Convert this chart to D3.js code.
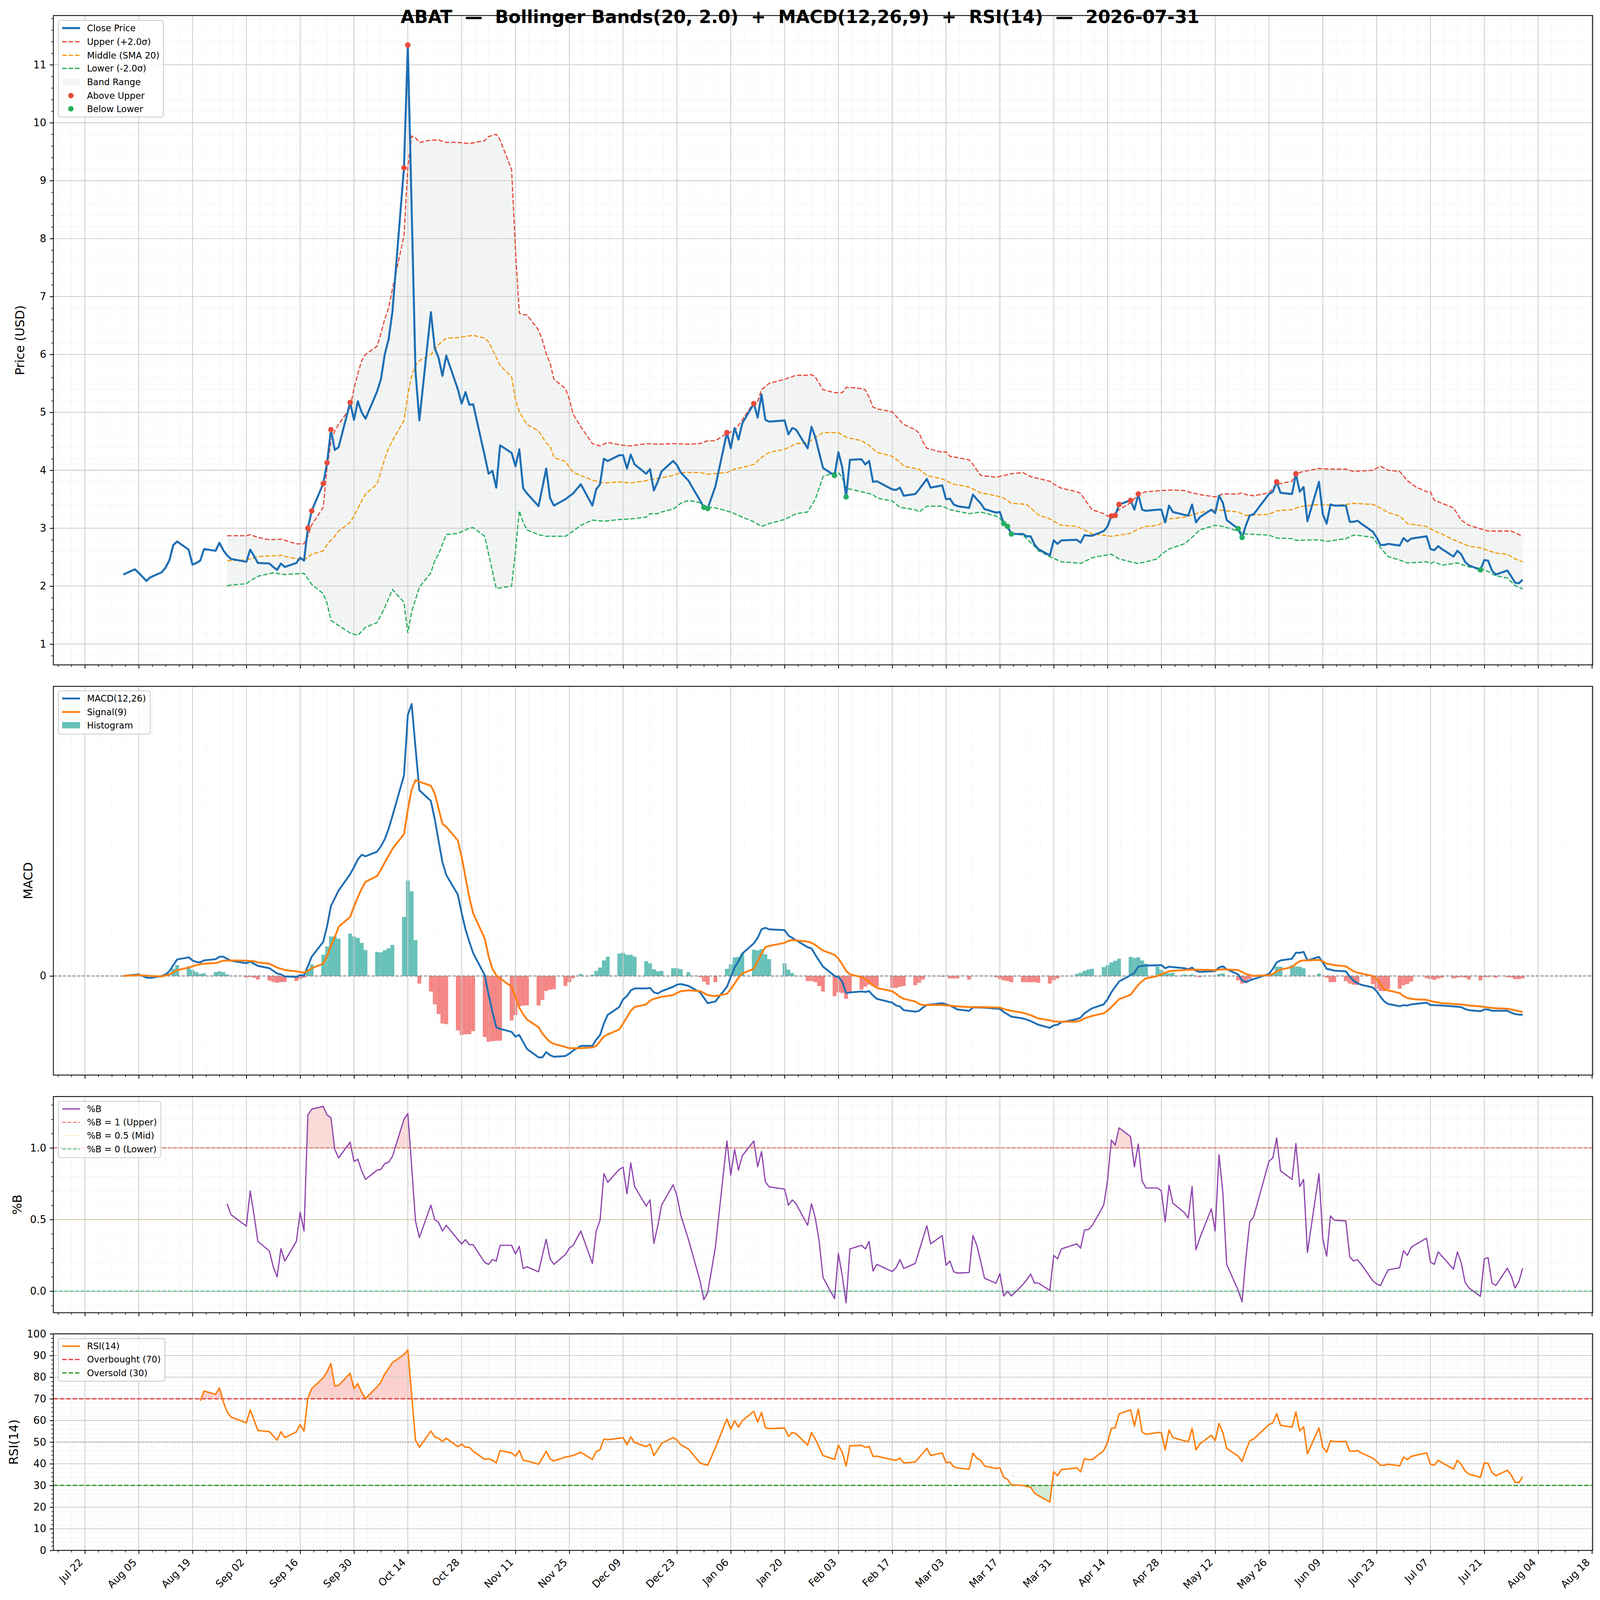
<!DOCTYPE html>
<html>
<head>
<meta charset="utf-8">
<script src="https://cdn.jsdelivr.net/npm/d3@7"></script>
<style>
html, body { margin: 0; padding: 0; background: #fff; width: 100%; height: 100%; overflow: hidden; }
svg { display: block; }
</style>
</head>
<body>
<script>
// ---- data ----
const ticker = "ABAT";
const asOf = "2026-07-31";

const closePrice = [
["2025-08-01",2.20],["2025-08-04",2.29],["2025-08-05",2.23],["2025-08-06",2.16],["2025-08-07",2.09],["2025-08-08",2.15],
["2025-08-11",2.24],["2025-08-12",2.32],["2025-08-13",2.45],["2025-08-14",2.71],["2025-08-15",2.77],
["2025-08-18",2.63],["2025-08-19",2.37],["2025-08-20",2.40],["2025-08-21",2.44],["2025-08-22",2.64],
["2025-08-25",2.61],["2025-08-26",2.75],["2025-08-27",2.62],["2025-08-28",2.53],["2025-08-29",2.47],
["2025-09-02",2.42],["2025-09-03",2.63],["2025-09-04",2.52],["2025-09-05",2.40],
["2025-09-08",2.39],["2025-09-09",2.33],["2025-09-10",2.28],["2025-09-11",2.39],["2025-09-12",2.33],
["2025-09-15",2.40],["2025-09-16",2.49],["2025-09-17",2.44],["2025-09-18",3.00],["2025-09-19",3.30],
["2025-09-22",3.77],["2025-09-23",4.13],["2025-09-24",4.70],["2025-09-25",4.35],["2025-09-26",4.40],
["2025-09-29",5.17],["2025-09-30",4.87],["2025-10-01",5.19],["2025-10-02",5.00],["2025-10-03",4.89],
["2025-10-06",5.36],["2025-10-07",5.57],["2025-10-08",6.00],["2025-10-09",6.26],["2025-10-10",6.74],
["2025-10-13",9.22],["2025-10-14",11.34],["2025-10-15",8.50],["2025-10-16",5.70],["2025-10-17",4.86],
["2025-10-20",6.73],["2025-10-21",6.11],["2025-10-22",5.94],["2025-10-23",5.63],["2025-10-24",5.98],
["2025-10-27",5.40],["2025-10-28",5.15],["2025-10-29",5.35],["2025-10-30",5.13],["2025-10-31",5.14],
["2025-11-03",4.25],["2025-11-04",3.94],["2025-11-05",3.99],["2025-11-06",3.70],["2025-11-07",4.43],
["2025-11-10",4.30],["2025-11-11",4.07],["2025-11-12",4.36],["2025-11-13",3.69],["2025-11-14",3.60],
["2025-11-17",3.38],["2025-11-18",3.70],["2025-11-19",4.03],["2025-11-20",3.52],["2025-11-21",3.39],
["2025-11-24",3.50],["2025-11-25",3.55],["2025-11-26",3.60],["2025-11-28",3.76],
["2025-12-01",3.39],["2025-12-02",3.67],["2025-12-03",3.76],["2025-12-04",4.20],["2025-12-05",4.16],
["2025-12-08",4.26],["2025-12-09",4.26],["2025-12-10",4.03],["2025-12-11",4.27],["2025-12-12",4.10],
["2025-12-15",3.94],["2025-12-16",4.02],["2025-12-17",3.65],["2025-12-18",3.80],["2025-12-19",3.98],
["2025-12-22",4.16],["2025-12-23",4.09],["2025-12-24",3.96],["2025-12-26",3.82],
["2025-12-29",3.48],["2025-12-30",3.36],["2025-12-31",3.34],["2026-01-02",3.72],
["2026-01-05",4.65],["2026-01-06",4.38],["2026-01-07",4.73],["2026-01-08",4.53],["2026-01-09",4.81],
["2026-01-12",5.15],["2026-01-13",4.91],["2026-01-14",5.31],["2026-01-15",4.87],["2026-01-16",4.84],
["2026-01-20",4.86],["2026-01-21",4.62],["2026-01-22",4.73],["2026-01-23",4.70],
["2026-01-26",4.38],["2026-01-27",4.75],["2026-01-28",4.57],["2026-01-29",4.30],["2026-01-30",4.04],
["2026-02-02",3.91],["2026-02-03",4.31],["2026-02-04",4.05],["2026-02-05",3.54],["2026-02-06",4.18],
["2026-02-09",4.19],["2026-02-10",4.10],["2026-02-11",4.16],["2026-02-12",3.80],["2026-02-13",3.81],
["2026-02-17",3.67],["2026-02-18",3.66],["2026-02-19",3.70],["2026-02-20",3.56],
["2026-02-23",3.59],["2026-02-24",3.67],["2026-02-25",3.76],["2026-02-26",3.85],["2026-02-27",3.70],
["2026-03-02",3.74],["2026-03-03",3.50],["2026-03-04",3.51],["2026-03-05",3.41],["2026-03-06",3.38],
["2026-03-09",3.35],["2026-03-10",3.58],["2026-03-11",3.50],["2026-03-12",3.43],["2026-03-13",3.33],
["2026-03-16",3.27],["2026-03-17",3.28],["2026-03-18",3.08],["2026-03-19",3.03],["2026-03-20",2.90],
["2026-03-23",2.90],["2026-03-24",2.86],["2026-03-25",2.86],["2026-03-26",2.72],["2026-03-27",2.64],
["2026-03-30",2.53],["2026-03-31",2.79],["2026-04-01",2.73],["2026-04-02",2.79],
["2026-04-06",2.80],["2026-04-07",2.75],["2026-04-08",2.88],["2026-04-09",2.87],["2026-04-10",2.87],
["2026-04-13",2.95],["2026-04-14",3.03],["2026-04-15",3.21],["2026-04-16",3.22],["2026-04-17",3.41],
["2026-04-20",3.48],["2026-04-21",3.32],["2026-04-22",3.59],["2026-04-23",3.32],["2026-04-24",3.30],
["2026-04-27",3.32],["2026-04-28",3.32],["2026-04-29",3.10],["2026-04-30",3.39],["2026-05-01",3.28],
["2026-05-04",3.23],["2026-05-05",3.22],["2026-05-06",3.41],["2026-05-07",3.10],["2026-05-08",3.19],
["2026-05-11",3.32],["2026-05-12",3.26],["2026-05-13",3.56],["2026-05-14",3.44],["2026-05-15",3.14],
["2026-05-18",2.99],["2026-05-19",2.84],["2026-05-20",3.05],["2026-05-21",3.22],["2026-05-22",3.24],
["2026-05-26",3.59],["2026-05-27",3.63],["2026-05-28",3.80],["2026-05-29",3.61],
["2026-06-01",3.59],["2026-06-02",3.94],["2026-06-03",3.63],["2026-06-04",3.71],["2026-06-05",3.12],
["2026-06-08",3.80],["2026-06-09",3.24],["2026-06-10",3.08],["2026-06-11",3.41],["2026-06-12",3.39],
["2026-06-15",3.39],["2026-06-16",3.11],["2026-06-17",3.11],["2026-06-18",3.13],["2026-06-19",3.08],
["2026-06-22",2.94],["2026-06-23",2.84],["2026-06-24",2.71],["2026-06-25",2.71],["2026-06-26",2.73],
["2026-06-29",2.70],["2026-06-30",2.83],["2026-07-01",2.77],["2026-07-02",2.82],["2026-07-03",2.83],
["2026-07-06",2.86],["2026-07-07",2.64],["2026-07-08",2.62],["2026-07-09",2.69],["2026-07-10",2.64],
["2026-07-13",2.51],["2026-07-14",2.61],["2026-07-15",2.55],["2026-07-16",2.42],["2026-07-17",2.36],
["2026-07-20",2.28],["2026-07-21",2.45],["2026-07-22",2.44],["2026-07-23",2.27],["2026-07-24",2.20],
["2026-07-27",2.27],["2026-07-28",2.17],["2026-07-29",2.06],["2026-07-30",2.05],["2026-07-31",2.11]
];

const upperBand = [
["2025-08-28",2.87],["2025-08-29",2.87],["2025-09-02",2.87],["2025-09-03",2.89],["2025-09-05",2.84],
["2025-09-08",2.80],["2025-09-11",2.81],["2025-09-12",2.79],["2025-09-15",2.73],["2025-09-17",2.73],
["2025-09-18",2.86],["2025-09-19",3.06],["2025-09-22",3.36],["2025-09-23",4.05],["2025-09-24",4.49],
["2025-09-25",4.68],["2025-09-26",4.79],["2025-09-29",5.08],["2025-09-30",5.41],["2025-10-01",5.67],
["2025-10-02",5.89],["2025-10-03",6.00],["2025-10-06",6.14],["2025-10-07",6.36],["2025-10-08",6.61],
["2025-10-09",6.80],["2025-10-10",7.13],["2025-10-13",8.05],["2025-10-14",9.22],["2025-10-15",9.77],
["2025-10-16",9.74],["2025-10-17",9.66],["2025-10-20",9.70],["2025-10-22",9.70],["2025-10-24",9.66],
["2025-10-27",9.66],["2025-10-30",9.64],["2025-11-03",9.69],["2025-11-04",9.76],["2025-11-06",9.80],
["2025-11-07",9.70],["2025-11-10",9.19],["2025-11-11",7.80],["2025-11-12",6.71],["2025-11-13",6.69],
["2025-11-14",6.68],["2025-11-17",6.42],["2025-11-18",6.25],["2025-11-19",6.01],["2025-11-20",5.85],
["2025-11-21",5.57],["2025-11-24",5.41],["2025-11-25",5.23],["2025-11-26",4.97],["2025-11-28",4.75],
["2025-12-01",4.46],["2025-12-03",4.42],["2025-12-05",4.48],["2025-12-08",4.44],["2025-12-11",4.42],
["2025-12-15",4.46],["2025-12-18",4.45],["2025-12-22",4.46],["2025-12-26",4.45],["2025-12-29",4.46],
["2025-12-31",4.51],["2026-01-02",4.51],["2026-01-05",4.64],["2026-01-07",4.68],["2026-01-09",4.87],
["2026-01-12",5.17],["2026-01-13",5.19],["2026-01-14",5.39],["2026-01-16",5.50],["2026-01-20",5.57],
["2026-01-23",5.64],["2026-01-26",5.64],["2026-01-27",5.65],["2026-01-28",5.61],["2026-01-30",5.39],
["2026-02-02",5.34],["2026-02-04",5.34],["2026-02-05",5.43],["2026-02-06",5.43],["2026-02-09",5.41],
["2026-02-10",5.39],["2026-02-11",5.26],["2026-02-12",5.09],["2026-02-13",5.06],["2026-02-17",5.01],
["2026-02-19",4.86],["2026-02-20",4.79],["2026-02-23",4.70],["2026-02-24",4.64],["2026-02-25",4.49],
["2026-02-26",4.38],["2026-03-02",4.31],["2026-03-03",4.32],["2026-03-04",4.24],["2026-03-06",4.22],
["2026-03-09",4.18],["2026-03-10",4.10],["2026-03-12",3.91],["2026-03-16",3.88],["2026-03-18",3.91],
["2026-03-20",3.94],["2026-03-23",3.96],["2026-03-25",3.89],["2026-03-30",3.81],["2026-03-31",3.76],
["2026-04-02",3.69],["2026-04-06",3.63],["2026-04-07",3.60],["2026-04-09",3.41],["2026-04-10",3.32],
["2026-04-13",3.25],["2026-04-14",3.21],["2026-04-15",3.21],["2026-04-17",3.32],["2026-04-20",3.44],
["2026-04-22",3.58],["2026-04-24",3.63],["2026-04-28",3.65],["2026-05-01",3.66],["2026-05-04",3.65],
["2026-05-06",3.61],["2026-05-08",3.58],["2026-05-12",3.54],["2026-05-14",3.59],["2026-05-18",3.59],
["2026-05-19",3.61],["2026-05-20",3.58],["2026-05-22",3.56],["2026-05-26",3.61],["2026-05-28",3.76],
["2026-06-01",3.81],["2026-06-02",3.94],["2026-06-04",3.98],["2026-06-08",4.03],["2026-06-11",4.02],
["2026-06-15",4.02],["2026-06-17",3.98],["2026-06-22",4.00],["2026-06-24",4.07],["2026-06-26",4.00],
["2026-06-29",3.98],["2026-07-01",3.82],["2026-07-03",3.72],["2026-07-06",3.63],["2026-07-07",3.63],
["2026-07-08",3.48],["2026-07-10",3.43],["2026-07-13",3.35],["2026-07-15",3.14],["2026-07-17",3.05],
["2026-07-20",2.99],["2026-07-22",2.95],["2026-07-24",2.95],["2026-07-28",2.95],["2026-07-31",2.86]
];

const middleBand = [
["2025-08-28",2.44],["2025-09-02",2.45],["2025-09-05",2.51],["2025-09-08",2.52],["2025-09-11",2.53],
["2025-09-15",2.47],["2025-09-17",2.45],["2025-09-19",2.55],["2025-09-22",2.61],["2025-09-23",2.72],
["2025-09-25",2.86],["2025-09-26",2.95],["2025-09-29",3.10],["2025-09-30",3.21],["2025-10-02",3.47],
["2025-10-03",3.59],["2025-10-06",3.76],["2025-10-07",3.98],["2025-10-08",4.20],["2025-10-09",4.38],
["2025-10-10",4.51],["2025-10-13",4.86],["2025-10-14",5.30],["2025-10-15",5.63],["2025-10-16",5.81],
["2025-10-17",5.89],["2025-10-20",6.00],["2025-10-22",6.17],["2025-10-24",6.28],["2025-10-27",6.29],
["2025-10-31",6.33],["2025-11-03",6.28],["2025-11-04",6.22],["2025-11-07",5.81],["2025-11-10",5.61],
["2025-11-11",5.22],["2025-11-12",5.01],["2025-11-13",4.90],["2025-11-14",4.79],["2025-11-17",4.68],
["2025-11-19",4.47],["2025-11-20",4.42],["2025-11-21",4.22],["2025-11-24",4.15],["2025-11-26",3.96],
["2025-11-28",3.91],["2025-12-01",3.83],["2025-12-04",3.78],["2025-12-08",3.80],["2025-12-11",3.78],
["2025-12-15",3.82],["2025-12-17",3.85],["2025-12-19",3.87],["2025-12-22",3.91],["2025-12-24",3.96],
["2025-12-29",3.96],["2025-12-31",3.93],["2026-01-05",3.96],["2026-01-07",4.02],["2026-01-09",4.05],
["2026-01-12",4.10],["2026-01-14",4.22],["2026-01-16",4.31],["2026-01-20",4.36],["2026-01-23",4.46],
["2026-01-26",4.47],["2026-01-28",4.57],["2026-01-30",4.65],["2026-02-03",4.65],["2026-02-05",4.57],
["2026-02-09",4.51],["2026-02-11",4.43],["2026-02-13",4.31],["2026-02-17",4.24],["2026-02-19",4.14],
["2026-02-20",4.07],["2026-02-24",4.02],["2026-02-26",3.91],["2026-03-02",3.85],["2026-03-05",3.76],
["2026-03-09",3.71],["2026-03-12",3.61],["2026-03-16",3.56],["2026-03-18",3.52],["2026-03-20",3.43],
["2026-03-24",3.41],["2026-03-27",3.23],["2026-03-30",3.16],["2026-03-31",3.12],["2026-04-02",3.05],
["2026-04-06",3.03],["2026-04-08",2.97],["2026-04-10",2.90],["2026-04-13",2.88],["2026-04-15",2.86],
["2026-04-20",2.91],["2026-04-22",2.99],["2026-04-24",3.03],["2026-04-27",3.05],["2026-04-30",3.16],
["2026-05-04",3.19],["2026-05-08",3.27],["2026-05-12",3.32],["2026-05-15",3.30],["2026-05-18",3.28],
["2026-05-20",3.22],["2026-05-26",3.24],["2026-05-28",3.30],["2026-06-01",3.32],["2026-06-03",3.37],
["2026-06-08",3.41],["2026-06-12",3.39],["2026-06-15",3.41],["2026-06-17",3.43],["2026-06-22",3.41],
["2026-06-24",3.35],["2026-06-26",3.27],["2026-06-29",3.21],["2026-07-01",3.08],["2026-07-06",3.03],
["2026-07-08",2.95],["2026-07-10",2.90],["2026-07-13",2.80],["2026-07-17",2.69],["2026-07-20",2.66],
["2026-07-24",2.57],["2026-07-27",2.55],["2026-07-29",2.47],["2026-07-31",2.42]
];

const lowerBand = [
["2025-08-28",2.00],["2025-08-29",2.02],["2025-09-02",2.04],["2025-09-03",2.09],["2025-09-05",2.17],
["2025-09-09",2.23],["2025-09-12",2.20],["2025-09-17",2.22],["2025-09-19",2.03],["2025-09-22",1.87],
["2025-09-23",1.70],["2025-09-24",1.41],["2025-09-26",1.32],["2025-09-29",1.19],["2025-10-01",1.15],
["2025-10-03",1.29],["2025-10-06",1.37],["2025-10-08",1.63],["2025-10-10",1.94],["2025-10-13",1.72],
["2025-10-14",1.19],["2025-10-15",1.56],["2025-10-17",1.98],["2025-10-20",2.23],["2025-10-21",2.44],
["2025-10-22",2.55],["2025-10-24",2.89],["2025-10-27",2.91],["2025-10-30",3.00],["2025-10-31",3.01],
["2025-11-03",2.86],["2025-11-06",1.96],["2025-11-10",2.00],["2025-11-11",2.60],["2025-11-12",3.30],
["2025-11-13",3.10],["2025-11-14",2.97],["2025-11-17",2.89],["2025-11-19",2.86],["2025-11-24",2.86],
["2025-11-26",2.95],["2025-11-28",3.05],["2025-12-01",3.14],["2025-12-04",3.12],["2025-12-08",3.15],
["2025-12-11",3.16],["2025-12-15",3.19],["2025-12-16",3.25],["2025-12-18",3.25],["2025-12-19",3.28],
["2025-12-22",3.33],["2025-12-24",3.43],["2025-12-26",3.48],["2025-12-29",3.44],["2025-12-30",3.37],
["2026-01-02",3.35],["2026-01-05",3.30],["2026-01-07",3.25],["2026-01-09",3.19],["2026-01-12",3.11],
["2026-01-14",3.03],["2026-01-16",3.08],["2026-01-20",3.15],["2026-01-23",3.25],["2026-01-26",3.28],
["2026-01-28",3.50],["2026-01-30",3.89],["2026-02-02",3.96],["2026-02-03",3.96],["2026-02-04",3.87],
["2026-02-05",3.69],["2026-02-09",3.63],["2026-02-12",3.58],["2026-02-13",3.52],["2026-02-17",3.47],
["2026-02-19",3.36],["2026-02-23",3.32],["2026-02-24",3.28],["2026-02-26",3.38],["2026-03-02",3.38],
["2026-03-04",3.32],["2026-03-09",3.25],["2026-03-12",3.28],["2026-03-16",3.21],["2026-03-17",3.17],
["2026-03-20",2.91],["2026-03-23",2.88],["2026-03-26",2.69],["2026-03-27",2.61],["2026-03-30",2.51],
["2026-03-31",2.48],["2026-04-01",2.45],["2026-04-02",2.42],["2026-04-06",2.40],["2026-04-07",2.39],
["2026-04-10",2.49],["2026-04-13",2.53],["2026-04-15",2.55],["2026-04-17",2.47],["2026-04-20",2.42],
["2026-04-22",2.39],["2026-04-24",2.42],["2026-04-27",2.47],["2026-04-28",2.55],["2026-04-30",2.64],
["2026-05-04",2.73],["2026-05-06",2.84],["2026-05-08",2.97],["2026-05-12",3.05],["2026-05-14",3.03],
["2026-05-18",2.95],["2026-05-20",2.90],["2026-05-26",2.88],["2026-05-28",2.83],["2026-06-01",2.82],
["2026-06-02",2.79],["2026-06-08",2.80],["2026-06-10",2.77],["2026-06-15",2.82],["2026-06-17",2.88],
["2026-06-19",2.87],["2026-06-22",2.84],["2026-06-24",2.66],["2026-06-26",2.51],["2026-06-29",2.45],
["2026-07-01",2.40],["2026-07-06",2.42],["2026-07-07",2.39],["2026-07-08",2.42],["2026-07-10",2.36],
["2026-07-14",2.40],["2026-07-17",2.33],["2026-07-20",2.31],["2026-07-22",2.25],["2026-07-24",2.18],
["2026-07-27",2.14],["2026-07-29",2.01],["2026-07-31",1.95]
];

const aboveUpperDates = ["2025-09-18","2025-09-19","2025-09-22","2025-09-23","2025-09-24","2025-09-29",
"2025-10-13","2025-10-14","2026-01-05","2026-01-12","2026-04-15","2026-04-16","2026-04-17","2026-04-20",
"2026-04-22","2026-05-28","2026-06-02"];
const belowLowerDates = ["2025-12-30","2025-12-31","2026-02-02","2026-02-05","2026-03-18","2026-03-19",
"2026-03-20","2026-05-18","2026-05-19","2026-07-20"];

const macdLine = [
["2025-08-01",0.000],["2025-08-05",0.010],["2025-08-07",-0.010],["2025-08-08",-0.013],["2025-08-11",0.000],
["2025-08-12",0.010],["2025-08-13",0.030],["2025-08-14",0.070],["2025-08-15",0.106],["2025-08-18",0.120],
["2025-08-19",0.100],["2025-08-20",0.090],["2025-08-21",0.087],["2025-08-22",0.100],["2025-08-25",0.108],
["2025-08-26",0.124],["2025-08-27",0.124],["2025-08-28",0.110],["2025-08-29",0.098],["2025-09-02",0.082],
["2025-09-03",0.092],["2025-09-05",0.065],["2025-09-08",0.050],["2025-09-10",0.016],["2025-09-11",0.010],
["2025-09-12",-0.003],["2025-09-15",-0.006],["2025-09-16",0.005],["2025-09-17",0.003],["2025-09-18",0.062],
["2025-09-19",0.124],["2025-09-22",0.220],["2025-09-23",0.320],["2025-09-24",0.450],["2025-09-25",0.500],
["2025-09-26",0.550],["2025-09-29",0.655],["2025-09-30",0.700],["2025-10-01",0.750],["2025-10-02",0.780],
["2025-10-03",0.770],["2025-10-06",0.800],["2025-10-07",0.835],["2025-10-08",0.880],["2025-10-09",0.946],
["2025-10-10",1.030],["2025-10-13",1.290],["2025-10-14",1.680],["2025-10-15",1.750],["2025-10-16",1.470],
["2025-10-17",1.195],["2025-10-20",1.126],["2025-10-21",1.010],["2025-10-22",0.870],["2025-10-23",0.733],
["2025-10-24",0.650],["2025-10-27",0.524],["2025-10-28",0.406],["2025-10-29",0.300],["2025-10-30",0.220],
["2025-10-31",0.147],["2025-11-03",0.005],["2025-11-04",-0.118],["2025-11-05",-0.230],["2025-11-06",-0.330],
["2025-11-07",-0.340],["2025-11-10",-0.360],["2025-11-11",-0.390],["2025-11-12",-0.380],["2025-11-13",-0.425],
["2025-11-14",-0.470],["2025-11-17",-0.524],["2025-11-18",-0.524],["2025-11-19",-0.490],["2025-11-20",-0.510],
["2025-11-21",-0.520],["2025-11-24",-0.515],["2025-11-25",-0.500],["2025-11-26",-0.480],["2025-11-28",-0.450],
["2025-12-01",-0.450],["2025-12-02",-0.410],["2025-12-03",-0.380],["2025-12-04",-0.306],["2025-12-05",-0.250],
["2025-12-08",-0.200],["2025-12-09",-0.150],["2025-12-10",-0.130],["2025-12-11",-0.093],["2025-12-12",-0.080],
["2025-12-15",-0.080],["2025-12-16",-0.077],["2025-12-17",-0.105],["2025-12-18",-0.113],["2025-12-19",-0.098],
["2025-12-22",-0.070],["2025-12-23",-0.056],["2025-12-24",-0.052],["2025-12-26",-0.064],["2025-12-29",-0.105],
["2025-12-30",-0.140],["2025-12-31",-0.175],["2026-01-02",-0.164],["2026-01-05",-0.070],["2026-01-06",-0.007],
["2026-01-07",0.054],["2026-01-08",0.095],["2026-01-09",0.144],["2026-01-12",0.210],["2026-01-13",0.245],
["2026-01-14",0.300],["2026-01-15",0.310],["2026-01-16",0.300],["2026-01-20",0.295],["2026-01-21",0.260],
["2026-01-22",0.245],["2026-01-23",0.230],["2026-01-26",0.185],["2026-01-27",0.177],["2026-01-28",0.136],
["2026-01-29",0.098],["2026-01-30",0.060],["2026-02-02",0.000],["2026-02-03",-0.007],["2026-02-04",-0.036],
["2026-02-05",-0.110],["2026-02-06",-0.106],["2026-02-09",-0.100],["2026-02-10",-0.103],["2026-02-11",-0.098],
["2026-02-12",-0.126],["2026-02-13",-0.147],["2026-02-17",-0.172],["2026-02-18",-0.190],["2026-02-19",-0.196],
["2026-02-20",-0.220],["2026-02-23",-0.230],["2026-02-24",-0.224],["2026-02-25",-0.203],["2026-02-26",-0.187],
["2026-03-02",-0.175],["2026-03-03",-0.183],["2026-03-04",-0.190],["2026-03-06",-0.216],["2026-03-09",-0.224],
["2026-03-10",-0.203],["2026-03-12",-0.203],["2026-03-16",-0.210],["2026-03-17",-0.213],["2026-03-18",-0.232],
["2026-03-20",-0.262],["2026-03-23",-0.273],["2026-03-25",-0.290],["2026-03-27",-0.314],["2026-03-30",-0.334],
["2026-03-31",-0.318],["2026-04-01",-0.314],["2026-04-02",-0.298],["2026-04-06",-0.278],["2026-04-07",-0.268],
["2026-04-08",-0.240],["2026-04-09",-0.224],["2026-04-10",-0.208],["2026-04-13",-0.183],["2026-04-14",-0.150],
["2026-04-15",-0.105],["2026-04-16",-0.070],["2026-04-17",-0.036],["2026-04-20",0.005],["2026-04-21",0.020],
["2026-04-22",0.060],["2026-04-23",0.065],["2026-04-24",0.067],["2026-04-27",0.069],["2026-04-28",0.070],
["2026-04-29",0.050],["2026-04-30",0.060],["2026-05-01",0.057],["2026-05-04",0.050],["2026-05-05",0.043],
["2026-05-06",0.054],["2026-05-07",0.033],["2026-05-08",0.026],["2026-05-11",0.030],["2026-05-12",0.033],
["2026-05-13",0.054],["2026-05-14",0.062],["2026-05-15",0.043],["2026-05-18",0.010],["2026-05-19",-0.028],
["2026-05-20",-0.040],["2026-05-21",-0.028],["2026-05-22",-0.020],["2026-05-26",0.013],["2026-05-27",0.046],
["2026-05-28",0.087],["2026-05-29",0.100],["2026-06-01",0.111],["2026-06-02",0.150],["2026-06-03",0.149],
["2026-06-04",0.155],["2026-06-05",0.100],["2026-06-08",0.123],["2026-06-09",0.087],["2026-06-10",0.046],
["2026-06-11",0.041],["2026-06-12",0.034],["2026-06-15",0.030],["2026-06-16",-0.003],["2026-06-17",-0.031],
["2026-06-18",-0.047],["2026-06-19",-0.057],["2026-06-22",-0.074],["2026-06-23",-0.098],["2026-06-24",-0.134],
["2026-06-25",-0.164],["2026-06-26",-0.180],["2026-06-29",-0.195],["2026-06-30",-0.188],["2026-07-01",-0.190],
["2026-07-02",-0.183],["2026-07-03",-0.180],["2026-07-06",-0.172],["2026-07-07",-0.187],["2026-07-08",-0.188],
["2026-07-10",-0.190],["2026-07-13",-0.196],["2026-07-15",-0.200],["2026-07-16",-0.213],["2026-07-17",-0.220],
["2026-07-20",-0.227],["2026-07-21",-0.216],["2026-07-22",-0.216],["2026-07-23",-0.224],["2026-07-24",-0.224],
["2026-07-27",-0.224],["2026-07-28",-0.236],["2026-07-29",-0.245],["2026-07-30",-0.249],["2026-07-31",-0.249]
];

const signalLine = [
["2025-08-01",0.000],["2025-08-05",0.005],["2025-08-08",0.000],["2025-08-11",-0.003],["2025-08-13",0.010],
["2025-08-15",0.038],["2025-08-18",0.054],["2025-08-20",0.070],["2025-08-22",0.079],["2025-08-25",0.083],
["2025-08-27",0.098],["2025-08-29",0.100],["2025-09-02",0.098],["2025-09-04",0.095],["2025-09-05",0.087],
["2025-09-08",0.079],["2025-09-10",0.054],["2025-09-12",0.038],["2025-09-15",0.030],["2025-09-17",0.021],
["2025-09-18",0.033],["2025-09-19",0.050],["2025-09-22",0.079],["2025-09-23",0.128],["2025-09-24",0.193],
["2025-09-25",0.250],["2025-09-26",0.316],["2025-09-29",0.380],["2025-09-30",0.447],["2025-10-01",0.507],
["2025-10-02",0.561],["2025-10-03",0.606],["2025-10-06",0.643],["2025-10-07",0.684],["2025-10-08",0.730],
["2025-10-09",0.774],["2025-10-10",0.818],["2025-10-13",0.913],["2025-10-14",1.070],["2025-10-15",1.200],
["2025-10-16",1.260],["2025-10-17",1.250],["2025-10-20",1.224],["2025-10-21",1.175],["2025-10-22",1.077],
["2025-10-23",0.979],["2025-10-24",0.960],["2025-10-27",0.872],["2025-10-28",0.766],["2025-10-29",0.635],
["2025-10-30",0.504],["2025-10-31",0.403],["2025-11-03",0.242],["2025-11-04",0.128],["2025-11-05",0.046],
["2025-11-06",0.005],["2025-11-07",-0.016],["2025-11-10",-0.069],["2025-11-11",-0.134],["2025-11-12",-0.205],
["2025-11-13",-0.245],["2025-11-14",-0.280],["2025-11-17",-0.330],["2025-11-18",-0.370],["2025-11-19",-0.400],
["2025-11-20",-0.425],["2025-11-21",-0.437],["2025-11-24",-0.457],["2025-11-25",-0.465],["2025-11-26",-0.465],
["2025-11-28",-0.465],["2025-12-01",-0.460],["2025-12-02",-0.450],["2025-12-03",-0.420],["2025-12-04",-0.390],
["2025-12-05",-0.376],["2025-12-08",-0.344],["2025-12-09",-0.306],["2025-12-10",-0.265],["2025-12-11",-0.224],
["2025-12-12",-0.200],["2025-12-15",-0.183],["2025-12-16",-0.159],["2025-12-17",-0.147],["2025-12-19",-0.134],
["2025-12-22",-0.123],["2025-12-23",-0.110],["2025-12-24",-0.098],["2025-12-26",-0.093],["2025-12-29",-0.097],
["2025-12-30",-0.110],["2025-12-31",-0.123],["2026-01-02",-0.130],["2026-01-05",-0.115],["2026-01-06",-0.085],
["2026-01-07",-0.049],["2026-01-08",-0.011],["2026-01-09",0.016],["2026-01-12",0.046],["2026-01-13",0.095],
["2026-01-14",0.144],["2026-01-15",0.185],["2026-01-16",0.193],["2026-01-20",0.213],["2026-01-21",0.226],
["2026-01-22",0.231],["2026-01-23",0.229],["2026-01-26",0.221],["2026-01-27",0.213],["2026-01-28",0.200],
["2026-01-29",0.180],["2026-01-30",0.164],["2026-02-02",0.136],["2026-02-03",0.111],["2026-02-04",0.075],
["2026-02-05",0.033],["2026-02-06",0.010],["2026-02-09",-0.007],["2026-02-10",-0.020],["2026-02-11",-0.039],
["2026-02-12",-0.060],["2026-02-13",-0.077],["2026-02-17",-0.098],["2026-02-18",-0.115],["2026-02-19",-0.134],
["2026-02-20",-0.147],["2026-02-23",-0.164],["2026-02-24",-0.180],["2026-02-25",-0.187],["2026-02-26",-0.187],
["2026-03-02",-0.187],["2026-03-06",-0.196],["2026-03-09",-0.200],["2026-03-12",-0.200],["2026-03-16",-0.203],
["2026-03-17",-0.203],["2026-03-18",-0.213],["2026-03-20",-0.224],["2026-03-23",-0.237],["2026-03-25",-0.252],
["2026-03-27",-0.273],["2026-03-30",-0.286],["2026-03-31",-0.292],["2026-04-02",-0.295],["2026-04-06",-0.293],
["2026-04-07",-0.287],["2026-04-08",-0.273],["2026-04-10",-0.257],["2026-04-13",-0.240],["2026-04-14",-0.224],
["2026-04-15",-0.200],["2026-04-16",-0.176],["2026-04-17",-0.150],["2026-04-20",-0.121],["2026-04-21",-0.088],
["2026-04-22",-0.057],["2026-04-23",-0.033],["2026-04-24",-0.016],["2026-04-27",0.000],["2026-04-28",0.010],
["2026-04-29",0.021],["2026-04-30",0.030],["2026-05-01",0.033],["2026-05-04",0.038],["2026-05-06",0.041],
["2026-05-08",0.040],["2026-05-12",0.038],["2026-05-14",0.043],["2026-05-18",0.038],["2026-05-19",0.026],
["2026-05-20",0.013],["2026-05-22",0.000],["2026-05-26",0.005],["2026-05-27",0.013],["2026-05-28",0.030],
["2026-05-29",0.041],["2026-06-01",0.057],["2026-06-02",0.079],["2026-06-03",0.095],["2026-06-04",0.100],
["2026-06-05",0.100],["2026-06-08",0.103],["2026-06-09",0.095],["2026-06-10",0.079],["2026-06-11",0.075],
["2026-06-12",0.070],["2026-06-15",0.062],["2026-06-16",0.046],["2026-06-17",0.030],["2026-06-18",0.021],
["2026-06-19",0.016],["2026-06-22",0.000],["2026-06-23",-0.020],["2026-06-24",-0.052],["2026-06-25",-0.088],
["2026-06-26",-0.093],["2026-06-29",-0.110],["2026-06-30",-0.130],["2026-07-01",-0.142],["2026-07-02",-0.147],
["2026-07-03",-0.150],["2026-07-06",-0.154],["2026-07-08",-0.167],["2026-07-10",-0.175],["2026-07-13",-0.180],
["2026-07-15",-0.183],["2026-07-17",-0.190],["2026-07-20",-0.196],["2026-07-22",-0.203],["2026-07-24",-0.208],
["2026-07-27",-0.211],["2026-07-29",-0.221],["2026-07-31",-0.232]
];

const macdHist = [
["2025-08-14",0.046],["2025-08-15",0.070],["2025-08-18",0.062],["2025-08-19",0.038],["2025-08-20",0.025],
["2025-08-21",0.013],["2025-08-22",0.018],["2025-08-25",0.025],["2025-08-26",0.030],["2025-08-27",0.025],
["2025-08-28",0.010],["2025-09-02",-0.011],["2025-09-03",-0.006],["2025-09-04",-0.011],["2025-09-05",-0.023],
["2025-09-08",-0.030],["2025-09-09",-0.039],["2025-09-10",-0.044],["2025-09-11",-0.039],["2025-09-12",-0.039],
["2025-09-15",-0.033],["2025-09-16",-0.020],["2025-09-17",-0.011],["2025-09-18",0.030],["2025-09-19",0.075],
["2025-09-22",0.136],["2025-09-23",0.190],["2025-09-24",0.254],["2025-09-25",0.254],["2025-09-26",0.239],
["2025-09-29",0.272],["2025-09-30",0.254],["2025-10-01",0.245],["2025-10-02",0.213],["2025-10-03",0.167],
["2025-10-06",0.155],["2025-10-07",0.152],["2025-10-08",0.165],["2025-10-09",0.177],["2025-10-10",0.200],
["2025-10-13",0.380],["2025-10-14",0.614],["2025-10-15",0.545],["2025-10-16",0.230],["2025-10-17",-0.049],
["2025-10-20",-0.100],["2025-10-21",-0.183],["2025-10-22",-0.245],["2025-10-23",-0.306],["2025-10-24",-0.310],
["2025-10-27",-0.350],["2025-10-28",-0.380],["2025-10-29",-0.375],["2025-10-30",-0.375],["2025-10-31",-0.355],
["2025-11-03",-0.393],["2025-11-04",-0.424],["2025-11-05",-0.420],["2025-11-06",-0.417],["2025-11-07",-0.417],
["2025-11-10",-0.286],["2025-11-11",-0.252],["2025-11-12",-0.196],["2025-11-13",-0.190],["2025-11-14",-0.190],
["2025-11-17",-0.190],["2025-11-18",-0.154],["2025-11-19",-0.097],["2025-11-20",-0.088],["2025-11-21",-0.085],
["2025-11-24",-0.064],["2025-11-25",-0.040],["2025-11-26",-0.015],["2025-11-28",0.013],["2025-12-01",0.008],
["2025-12-02",0.033],["2025-12-03",0.054],["2025-12-04",0.100],["2025-12-05",0.124],["2025-12-08",0.144],
["2025-12-09",0.149],["2025-12-10",0.136],["2025-12-11",0.136],["2025-12-12",0.124],["2025-12-15",0.095],
["2025-12-16",0.082],["2025-12-17",0.043],["2025-12-18",0.030],["2025-12-19",0.033],["2025-12-22",0.050],
["2025-12-23",0.050],["2025-12-24",0.043],["2025-12-26",0.025],["2025-12-29",-0.007],["2025-12-30",-0.036],
["2025-12-31",-0.056],["2026-01-02",-0.040],["2026-01-05",0.046],["2026-01-06",0.075],["2026-01-07",0.120],
["2026-01-08",0.123],["2026-01-09",0.144],["2026-01-12",0.169],["2026-01-13",0.165],["2026-01-14",0.173],
["2026-01-15",0.140],["2026-01-16",0.108],["2026-01-20",0.082],["2026-01-21",0.041],["2026-01-22",0.018],
["2026-01-26",-0.033],["2026-01-27",-0.033],["2026-01-28",-0.040],["2026-01-29",-0.065],["2026-01-30",-0.100],
["2026-02-02",-0.130],["2026-02-03",-0.105],["2026-02-04",-0.110],["2026-02-05",-0.147],["2026-02-06",-0.105],
["2026-02-09",-0.088],["2026-02-10",-0.069],["2026-02-11",-0.056],["2026-02-12",-0.065],["2026-02-13",-0.069],
["2026-02-17",-0.077],["2026-02-18",-0.077],["2026-02-19",-0.069],["2026-02-20",-0.065],["2026-02-23",-0.060],
["2026-02-24",-0.044],["2026-02-25",-0.023],["2026-03-02",-0.005],["2026-03-04",-0.016],["2026-03-05",-0.016],
["2026-03-06",-0.016],["2026-03-09",-0.023],["2026-03-16",-0.008],["2026-03-17",-0.020],["2026-03-18",-0.028],
["2026-03-19",-0.033],["2026-03-20",-0.040],["2026-03-23",-0.040],["2026-03-24",-0.040],["2026-03-25",-0.041],
["2026-03-26",-0.040],["2026-03-27",-0.044],["2026-03-30",-0.049],["2026-03-31",-0.028],["2026-04-01",-0.016],
["2026-04-06",0.013],["2026-04-07",0.021],["2026-04-08",0.033],["2026-04-09",0.041],["2026-04-10",0.046],
["2026-04-13",0.057],["2026-04-14",0.070],["2026-04-15",0.087],["2026-04-16",0.098],["2026-04-17",0.111],
["2026-04-20",0.123],["2026-04-21",0.116],["2026-04-22",0.120],["2026-04-23",0.100],["2026-04-24",0.079],
["2026-04-27",0.060],["2026-04-28",0.038],["2026-04-29",0.021],["2026-04-30",0.018],["2026-05-01",0.021],
["2026-05-04",0.010],["2026-05-05",0.005],["2026-05-06",0.010],["2026-05-07",-0.003],["2026-05-08",-0.008],
["2026-05-13",0.013],["2026-05-14",0.016],["2026-05-18",-0.028],["2026-05-19",-0.049],["2026-05-20",-0.044],
["2026-05-21",-0.020],["2026-05-22",-0.006],["2026-05-26",-0.003],["2026-05-27",0.013],["2026-05-28",0.060],
["2026-05-29",0.060],["2026-06-01",0.070],["2026-06-02",0.062],["2026-06-03",0.060],["2026-06-04",0.050],
["2026-06-08",0.016],["2026-06-10",-0.011],["2026-06-11",-0.040],["2026-06-12",-0.039],["2026-06-15",-0.033],
["2026-06-16",-0.049],["2026-06-17",-0.056],["2026-06-18",-0.057],["2026-06-22",-0.052],["2026-06-23",-0.082],
["2026-06-24",-0.097],["2026-06-25",-0.097],["2026-06-26",-0.085],["2026-06-29",-0.082],["2026-06-30",-0.060],
["2026-07-01",-0.052],["2026-07-02",-0.036],["2026-07-06",-0.015],["2026-07-07",-0.020],["2026-07-08",-0.025],
["2026-07-09",-0.016],["2026-07-10",-0.011],["2026-07-13",-0.016],["2026-07-14",-0.011],["2026-07-15",-0.007],
["2026-07-16",-0.011],["2026-07-17",-0.023],["2026-07-20",-0.028],["2026-07-21",-0.008],["2026-07-22",-0.007],
["2026-07-23",-0.003],["2026-07-24",-0.011],["2026-07-27",-0.008],["2026-07-28",-0.011],["2026-07-29",-0.020],
["2026-07-30",-0.020],["2026-07-31",-0.016]
];

const percentB = [
["2025-08-28",0.61],["2025-08-29",0.534],["2025-09-02",0.454],["2025-09-03",0.70],["2025-09-04",0.53],
["2025-09-05",0.347],["2025-09-08",0.28],["2025-09-09",0.17],["2025-09-10",0.10],["2025-09-11",0.297],
["2025-09-12",0.21],["2025-09-15",0.347],["2025-09-16",0.55],["2025-09-17",0.42],["2025-09-18",1.23],
["2025-09-19",1.27],["2025-09-22",1.29],["2025-09-23",1.23],["2025-09-24",1.21],["2025-09-25",0.99],
["2025-09-26",0.93],["2025-09-29",1.04],["2025-09-30",0.906],["2025-10-01",0.92],["2025-10-02",0.84],
["2025-10-03",0.78],["2025-10-06",0.845],["2025-10-07",0.85],["2025-10-08",0.89],["2025-10-09",0.90],
["2025-10-10",0.94],["2025-10-13",1.20],["2025-10-14",1.24],["2025-10-15",0.87],["2025-10-16",0.49],
["2025-10-17",0.374],["2025-10-20",0.60],["2025-10-21",0.50],["2025-10-22",0.48],["2025-10-23",0.42],
["2025-10-24",0.46],["2025-10-27",0.36],["2025-10-28",0.33],["2025-10-29",0.36],["2025-10-30",0.324],
["2025-10-31",0.324],["2025-11-03",0.20],["2025-11-04",0.187],["2025-11-05",0.22],["2025-11-06",0.21],
["2025-11-07",0.32],["2025-11-10",0.32],["2025-11-11",0.26],["2025-11-12",0.313],["2025-11-13",0.158],
["2025-11-14",0.17],["2025-11-17",0.135],["2025-11-18",0.25],["2025-11-19",0.363],["2025-11-20",0.226],
["2025-11-21",0.187],["2025-11-24",0.256],["2025-11-25",0.30],["2025-11-26",0.32],["2025-11-28",0.42],
["2025-12-01",0.194],["2025-12-02",0.42],["2025-12-03",0.495],["2025-12-04",0.82],["2025-12-05",0.76],
["2025-12-08",0.85],["2025-12-09",0.865],["2025-12-10",0.68],["2025-12-11",0.895],["2025-12-12",0.73],
["2025-12-15",0.594],["2025-12-16",0.637],["2025-12-17",0.333],["2025-12-18",0.454],["2025-12-19",0.60],
["2025-12-22",0.742],["2025-12-23",0.667],["2025-12-24",0.53],["2025-12-26",0.36],["2025-12-29",0.073],
["2025-12-30",-0.06],["2025-12-31",-0.011],["2026-01-02",0.306],["2026-01-05",1.048],["2026-01-06",0.81],
["2026-01-07",0.99],["2026-01-08",0.845],["2026-01-09",0.945],["2026-01-12",1.048],["2026-01-13",0.868],
["2026-01-14",0.975],["2026-01-15",0.763],["2026-01-16",0.728],["2026-01-20",0.712],["2026-01-21",0.60],
["2026-01-22",0.637],["2026-01-23",0.61],["2026-01-26",0.46],["2026-01-27",0.61],["2026-01-28",0.51],
["2026-01-29",0.347],["2026-01-30",0.096],["2026-02-02",-0.053],["2026-02-03",0.263],["2026-02-04",0.107],
["2026-02-05",-0.082],["2026-02-06",0.295],["2026-02-09",0.32],["2026-02-10",0.295],["2026-02-11",0.347],
["2026-02-12",0.14],["2026-02-13",0.187],["2026-02-17",0.137],["2026-02-18",0.164],["2026-02-19",0.22],
["2026-02-20",0.158],["2026-02-23",0.194],["2026-02-26",0.457],["2026-02-27",0.33],["2026-03-02",0.388],
["2026-03-03",0.18],["2026-03-04",0.21],["2026-03-05",0.135],["2026-03-06",0.126],["2026-03-09",0.13],
["2026-03-10",0.388],["2026-03-11",0.32],["2026-03-12",0.21],["2026-03-13",0.091],["2026-03-16",0.055],
["2026-03-17",0.123],["2026-03-18",-0.034],["2026-03-19",-0.002],["2026-03-20",-0.034],["2026-03-23",0.046],
["2026-03-24",0.08],["2026-03-25",0.119],["2026-03-26",0.057],["2026-03-27",0.057],["2026-03-30",0.005],
["2026-03-31",0.25],["2026-04-01",0.226],["2026-04-02",0.295],["2026-04-06",0.33],["2026-04-07",0.30],
["2026-04-08",0.427],["2026-04-09",0.43],["2026-04-10",0.457],["2026-04-13",0.60],["2026-04-14",0.77],
["2026-04-15",1.055],["2026-04-16",1.02],["2026-04-17",1.14],["2026-04-20",1.078],["2026-04-21",0.868],
["2026-04-22",1.027],["2026-04-23",0.77],["2026-04-24",0.72],["2026-04-27",0.72],["2026-04-28",0.70],
["2026-04-29",0.484],["2026-04-30",0.74],["2026-05-01",0.614],["2026-05-04",0.548],["2026-05-05",0.51],
["2026-05-06",0.73],["2026-05-07",0.29],["2026-05-08",0.37],["2026-05-11",0.575],["2026-05-12",0.42],
["2026-05-13",0.952],["2026-05-14",0.69],["2026-05-15",0.187],["2026-05-18",0.005],["2026-05-19",-0.075],
["2026-05-20",0.233],["2026-05-21",0.484],["2026-05-22",0.518],["2026-05-26",0.906],["2026-05-27",0.93],
["2026-05-28",1.07],["2026-05-29",0.84],["2026-06-01",0.78],["2026-06-02",1.03],["2026-06-03",0.73],
["2026-06-04",0.78],["2026-06-05",0.27],["2026-06-08",0.82],["2026-06-09",0.365],["2026-06-10",0.244],
["2026-06-11",0.525],["2026-06-12",0.495],["2026-06-15",0.49],["2026-06-16",0.24],["2026-06-17",0.21],
["2026-06-18",0.22],["2026-06-19",0.187],["2026-06-22",0.073],["2026-06-23",0.05],["2026-06-24",0.039],
["2026-06-25",0.096],["2026-06-26",0.148],["2026-06-29",0.164],["2026-06-30",0.283],["2026-07-01",0.25],
["2026-07-02",0.306],["2026-07-03",0.324],["2026-07-06",0.37],["2026-07-07",0.203],["2026-07-08",0.187],
["2026-07-09",0.274],["2026-07-10",0.244],["2026-07-13",0.153],["2026-07-14",0.274],["2026-07-15",0.199],
["2026-07-16",0.062],["2026-07-17",0.023],["2026-07-20",-0.037],["2026-07-21",0.226],["2026-07-22",0.233],
["2026-07-23",0.057],["2026-07-24",0.039],["2026-07-27",0.16],["2026-07-28",0.107],["2026-07-29",0.023],
["2026-07-30",0.068],["2026-07-31",0.16]
];

const rsi14 = [
["2025-08-21",69.1],["2025-08-22",73.6],["2025-08-25",72.1],["2025-08-26",75.0],["2025-08-27",68.7],
["2025-08-28",63.9],["2025-08-29",61.6],["2025-09-02",58.9],["2025-09-03",64.9],["2025-09-05",55.4],
["2025-09-08",54.8],["2025-09-10",50.9],["2025-09-11",54.8],["2025-09-12",52.1],["2025-09-15",54.7],
["2025-09-16",58.1],["2025-09-17",55.1],["2025-09-18",70.2],["2025-09-19",74.7],["2025-09-22",79.7],
["2025-09-23",82.5],["2025-09-24",86.3],["2025-09-25",75.9],["2025-09-26",76.2],["2025-09-29",81.8],
["2025-09-30",74.7],["2025-10-01",77.0],["2025-10-02",72.9],["2025-10-03",70.2],["2025-10-06",75.5],
["2025-10-07",77.7],["2025-10-08",81.5],["2025-10-09",84.0],["2025-10-10",86.7],["2025-10-13",90.5],
["2025-10-14",92.5],["2025-10-15",72.0],["2025-10-16",50.9],["2025-10-17",47.6],["2025-10-20",55.1],
["2025-10-21",52.4],["2025-10-22",51.8],["2025-10-23",50.3],["2025-10-24",51.8],["2025-10-27",47.9],
["2025-10-28",49.1],["2025-10-29",47.6],["2025-10-30",47.6],["2025-10-31",45.8],["2025-11-03",42.0],
["2025-11-04",42.3],["2025-11-05",41.6],["2025-11-06",40.4],["2025-11-07",46.1],["2025-11-10",45.0],
["2025-11-11",43.5],["2025-11-12",46.1],["2025-11-13",41.6],["2025-11-14",41.3],["2025-11-17",39.8],
["2025-11-18",42.6],["2025-11-19",45.8],["2025-11-20",42.3],["2025-11-21",41.3],["2025-11-24",43.1],
["2025-11-25",43.4],["2025-11-26",43.8],["2025-11-28",45.3],["2025-12-01",42.0],["2025-12-02",45.6],
["2025-12-03",46.5],["2025-12-04",51.4],["2025-12-05",51.1],["2025-12-08",51.8],["2025-12-09",52.1],
["2025-12-10",48.8],["2025-12-11",52.4],["2025-12-12",49.8],["2025-12-15",47.9],["2025-12-16",49.1],
["2025-12-17",43.8],["2025-12-18",46.4],["2025-12-19",49.4],["2025-12-22",52.1],["2025-12-23",50.9],
["2025-12-24",48.8],["2025-12-26",46.8],["2025-12-29",40.4],["2025-12-30",39.8],["2025-12-31",39.3],
["2026-01-02",47.3],["2026-01-05",60.7],["2026-01-06",55.9],["2026-01-07",59.9],["2026-01-08",56.9],
["2026-01-09",59.9],["2026-01-12",64.2],["2026-01-13",59.3],["2026-01-14",63.7],["2026-01-15",56.6],
["2026-01-16",56.2],["2026-01-20",56.5],["2026-01-21",52.7],["2026-01-22",54.4],["2026-01-23",53.9],
["2026-01-26",48.6],["2026-01-27",54.4],["2026-01-28",51.4],["2026-01-29",47.6],["2026-01-30",43.8],
["2026-02-02",42.0],["2026-02-03",48.6],["2026-02-04",45.3],["2026-02-05",38.9],["2026-02-06",48.3],
["2026-02-09",48.5],["2026-02-10",47.6],["2026-02-11",48.0],["2026-02-12",43.4],["2026-02-13",43.5],
["2026-02-17",41.9],["2026-02-18",41.6],["2026-02-19",42.6],["2026-02-20",40.4],["2026-02-23",40.8],
["2026-02-26",47.1],["2026-02-27",43.8],["2026-03-02",45.0],["2026-03-03",40.5],["2026-03-04",40.8],
["2026-03-05",38.6],["2026-03-06",38.1],["2026-03-09",37.5],["2026-03-10",44.9],["2026-03-11",42.6],
["2026-03-12",41.6],["2026-03-13",39.0],["2026-03-16",37.8],["2026-03-17",38.1],["2026-03-18",33.7],
["2026-03-19",32.8],["2026-03-20",30.3],["2026-03-23",30.0],["2026-03-24",29.5],["2026-03-25",29.2],
["2026-03-26",26.5],["2026-03-27",25.3],["2026-03-30",22.4],["2026-03-31",36.3],["2026-04-01",34.5],
["2026-04-02",37.3],["2026-04-06",38.1],["2026-04-07",36.3],["2026-04-08",42.3],["2026-04-09",41.9],
["2026-04-10",41.9],["2026-04-13",46.1],["2026-04-14",49.8],["2026-04-15",56.3],["2026-04-16",56.6],
["2026-04-17",63.0],["2026-04-20",64.9],["2026-04-21",57.4],["2026-04-22",65.2],["2026-04-23",54.7],
["2026-04-24",53.6],["2026-04-27",54.4],["2026-04-28",54.4],["2026-04-29",46.4],["2026-04-30",55.6],
["2026-05-01",52.1],["2026-05-04",50.6],["2026-05-05",50.2],["2026-05-06",56.3],["2026-05-07",46.4],
["2026-05-08",49.1],["2026-05-11",53.2],["2026-05-12",50.6],["2026-05-13",58.6],["2026-05-14",54.4],
["2026-05-15",47.1],["2026-05-18",43.5],["2026-05-19",41.1],["2026-05-20",46.1],["2026-05-21",50.6],
["2026-05-22",51.4],["2026-05-26",58.1],["2026-05-27",58.9],["2026-05-28",63.1],["2026-05-29",57.8],
["2026-06-01",56.9],["2026-06-02",63.9],["2026-06-03",55.1],["2026-06-04",57.1],["2026-06-05",44.6],
["2026-06-08",56.6],["2026-06-09",47.6],["2026-06-10",45.3],["2026-06-11",50.6],["2026-06-12",50.2],
["2026-06-15",50.3],["2026-06-16",45.8],["2026-06-17",45.8],["2026-06-18",46.1],["2026-06-19",45.0],
["2026-06-22",42.6],["2026-06-23",41.1],["2026-06-24",39.3],["2026-06-25",39.3],["2026-06-26",39.8],
["2026-06-29",39.0],["2026-06-30",43.1],["2026-07-01",41.9],["2026-07-02",43.4],["2026-07-03",43.8],
["2026-07-06",45.0],["2026-07-07",39.8],["2026-07-08",39.3],["2026-07-09",41.6],["2026-07-10",40.5],
["2026-07-13",37.5],["2026-07-14",41.6],["2026-07-15",39.8],["2026-07-16",36.7],["2026-07-17",35.2],
["2026-07-20",33.7],["2026-07-21",40.4],["2026-07-22",40.1],["2026-07-23",36.0],["2026-07-24",34.5],
["2026-07-27",37.0],["2026-07-28",34.8],["2026-07-29",31.5],["2026-07-30",31.3],["2026-07-31",34.0]
];

const priceTicks = [1,2,3,4,5,6,7,8,9,10,11];
const pctbTicks = [0, 0.5, 1.0];
const rsiTicks = [0,10,20,30,40,50,60,70,80,90,100];

// ---- layout ----
const FONT = '"DejaVu Sans", sans-serif';
const W = 4378, H = 4322, L = 146, R = 4358;
const P = {
  price: {top: 42, bottom: 1796},
  macd: {top: 1854, bottom: 2904},
  pctb: {top: 2962, bottom: 3546},
  rsi: {top: 3603, bottom: 4188}
};
const DAY = 864e5;

// drawn in a fixed 4378x4322 coordinate system, stretched to whatever the window is
const vw = window.innerWidth || W, vh = window.innerHeight || H;
const svg = d3.select("body").append("svg")
    .attr("width", vw).attr("height", vh)
    .attr("viewBox", `0 0 ${W} ${H}`)
    .attr("preserveAspectRatio", "none")
    .attr("font-family", FONT);
svg.append("rect").attr("width", W).attr("height", H).attr("fill", "#fff");
const defs = svg.append("defs");

const parse = d3.utcParse("%Y-%m-%d");
const pts = arr => arr.map(d => [parse(d[0]), d[1]]);
const close = pts(closePrice), upper = pts(upperBand), middle = pts(middleBand), lower = pts(lowerBand);
const macd = pts(macdLine), signal = pts(signalLine), hist = pts(macdHist);
const pctb = pts(percentB), rsi = pts(rsi14);
const closeByDate = new Map(closePrice);

// x: matplotlib style 5% margin around the data
const first = close[0][0], last = close[close.length - 1][0];
const xpad = (last - first) * 0.05;
const x = d3.scaleUtc()
    .domain([new Date(+first - xpad), new Date(+last + xpad)])
    .range([L, R]);

const tick0 = Date.UTC(2025, 6, 22);
const majorTicks = d3.range(-2, 32).map(i => new Date(tick0 + i * 14 * DAY))
    .filter(d => d >= x.domain()[0] && d <= x.domain()[1]);
const minorTicks = d3.range(-8, 128).filter(i => i % 4 !== 0)
    .map(i => new Date(tick0 + i * 3.5 * DAY))
    .filter(d => d >= x.domain()[0] && d <= x.domain()[1]);

function padded(vals) {
  const [a, b] = d3.extent(vals);
  const m = (b - a) * 0.05;
  return [a - m, b + m];
}

const yPrice = d3.scaleLinear()
    .domain(padded([...close, ...upper, ...lower].map(d => d[1])))
    .range([P.price.bottom, P.price.top]);
const yMacd = d3.scaleLinear()
    .domain(padded([...macd, ...signal, ...hist].map(d => d[1])))
    .range([P.macd.bottom, P.macd.top]);
const yPctb = d3.scaleLinear()
    .domain(padded(pctb.map(d => d[1])))
    .range([P.pctb.bottom, P.pctb.top]);
const yRsi = d3.scaleLinear().domain([0, 100]).range([P.rsi.bottom, P.rsi.top]);

function between(vals, s) {
  const [a, b] = d3.extent(s.domain());
  return vals.filter(v => v >= a - 1e-9 && v <= b + 1e-9);
}

function grid(p, y, yMajor, yMinor) {
  const g = svg.append("g");
  g.selectAll(null).data(minorTicks).join("line")
      .attr("x1", d => x(d)).attr("x2", d => x(d))
      .attr("y1", p.top).attr("y2", p.bottom)
      .attr("stroke", "#dedede").attr("stroke-width", 1.4).attr("stroke-dasharray", "1.4,2.6");
  if (yMinor) {
    g.selectAll(null).data(yMinor).join("line")
        .attr("x1", L).attr("x2", R)
        .attr("y1", d => y(d)).attr("y2", d => y(d))
        .attr("stroke", "#dedede").attr("stroke-width", 1.4).attr("stroke-dasharray", "1.4,2.6");
  }
  g.selectAll(null).data(majorTicks).join("line")
      .attr("x1", d => x(d)).attr("x2", d => x(d))
      .attr("y1", p.top).attr("y2", p.bottom)
      .attr("stroke", "#cccccc").attr("stroke-width", 2.2);
  if (yMajor) {
    g.selectAll(null).data(yMajor).join("line")
        .attr("x1", L).attr("x2", R)
        .attr("y1", d => y(d)).attr("y2", d => y(d))
        .attr("stroke", "#cccccc").attr("stroke-width", 2.2);
  }
}

function axes(p, y, yMajor, yMinor, fmt, xLabels) {
  const g = svg.append("g");
  g.append("g").attr("transform", `translate(0,${p.bottom})`)
      .call(d3.axisBottom(x).tickValues(minorTicks).tickSize(5.6).tickFormat(""))
      .selectAll(".tick line").attr("stroke-width", 1.7);
  g.append("g").attr("transform", `translate(0,${p.bottom})`)
      .call(d3.axisBottom(x).tickValues(majorTicks).tickSize(9.7).tickFormat(""))
      .selectAll(".tick line").attr("stroke-width", 2.2);
  if (yMinor) {
    g.append("g").attr("transform", `translate(${L},0)`)
        .call(d3.axisLeft(y).tickValues(yMinor).tickSize(5.6).tickFormat(""))
        .selectAll(".tick line").attr("stroke-width", 1.7);
  }
  const ya = g.append("g").attr("transform", `translate(${L},0)`)
      .call(d3.axisLeft(y).tickValues(yMajor).tickSize(9.7).tickPadding(9.7).tickFormat(fmt));
  ya.selectAll(".tick line").attr("stroke-width", 2.2);
  g.selectAll(".domain").remove();
  g.selectAll(".tick line").attr("stroke", "#000");
  g.selectAll(".tick text").attr("font-size", 27.8).attr("fill", "#000").attr("font-family", FONT);
  g.append("rect").attr("x", L).attr("y", p.top)
      .attr("width", R - L).attr("height", p.bottom - p.top)
      .attr("fill", "none").attr("stroke", "#000").attr("stroke-width", 2.2);
  if (xLabels) {
    const f = d3.utcFormat("%b %d");
    g.selectAll(null).data(majorTicks).join("text")
        .attr("transform", d => `translate(${x(d) - 4},${p.bottom + 34}) rotate(-45)`)
        .attr("text-anchor", "end")
        .attr("font-size", 27.8)
        .text(d => f(d));
  }
}

function ylabel(text, cx, p) {
  svg.append("text")
      .attr("transform", `translate(${cx},${(p.top + p.bottom) / 2}) rotate(-90)`)
      .attr("text-anchor", "middle").attr("dominant-baseline", "central")
      .attr("font-size", 33.3).text(text);
}

function legend(box, rows) {
  const g = svg.append("g");
  g.append("rect").attr("x", box[0]).attr("y", box[1])
      .attr("width", box[2] - box[0]).attr("height", box[3] - box[1])
      .attr("rx", 6).attr("fill", "#fff").attr("fill-opacity", 0.8)
      .attr("stroke", "#cccccc").attr("stroke-width", 2.2);
  rows.forEach(r => {
    if (r.kind === "line") {
      g.append("line").attr("x1", 170).attr("x2", 219).attr("y1", r.y).attr("y2", r.y)
          .attr("stroke", r.color).attr("stroke-width", r.width)
          .attr("stroke-dasharray", r.dash || null).attr("stroke-opacity", r.opacity || 1);
    } else if (r.kind === "patch") {
      g.append("rect").attr("x", 170).attr("y", r.y - 8.5).attr("width", 49).attr("height", 17)
          .attr("fill", r.color).attr("fill-opacity", r.opacity || 1);
    } else {
      g.append("circle").attr("cx", 194).attr("cy", r.y).attr("r", 7.5).attr("fill", r.color);
    }
    g.append("text").attr("x", 238).attr("y", r.y).attr("dy", "0.35em")
        .attr("font-size", 24.3).text(r.label);
  });
}

const line = y => d3.line().x(d => x(d[0])).y(d => y(d[1]));

// ---- price panel ----
{
  const p = P.price;
  const bandPath = line(yPrice)(upper) + "L" + line(yPrice)(lower.slice().reverse()).slice(1) + "Z";
  svg.append("path").attr("d", bandPath).attr("fill", "#95a5a6").attr("fill-opacity", 0.11);
  const pMinor = d3.range(0, 60).filter(i => i % 5 !== 0).map(i => i * 0.2);
  grid(p, yPrice, priceTicks, between(pMinor, yPrice));
  const dash = "12.3,5.3";
  svg.append("path").datum(upper).attr("d", line(yPrice)).attr("fill", "none")
      .attr("stroke", "#e74c3c").attr("stroke-width", 3.3).attr("stroke-dasharray", dash);
  svg.append("path").datum(middle).attr("d", line(yPrice)).attr("fill", "none")
      .attr("stroke", "#f39c12").attr("stroke-width", 3.3).attr("stroke-dasharray", dash);
  svg.append("path").datum(lower).attr("d", line(yPrice)).attr("fill", "none")
      .attr("stroke", "#27ae60").attr("stroke-width", 3.3).attr("stroke-dasharray", dash);
  svg.append("path").datum(close).attr("d", line(yPrice)).attr("fill", "none")
      .attr("stroke", "#1f6fb4").attr("stroke-width", 5.5).attr("stroke-linejoin", "round");
  svg.selectAll(null).data(aboveUpperDates).join("circle")
      .attr("cx", d => x(parse(d))).attr("cy", d => yPrice(closeByDate.get(d)))
      .attr("r", 7.5).attr("fill", "#e74c3c");
  svg.selectAll(null).data(belowLowerDates).join("circle")
      .attr("cx", d => x(parse(d))).attr("cy", d => yPrice(closeByDate.get(d)))
      .attr("r", 7.5).attr("fill", "#27ae60");
  axes(p, yPrice, priceTicks, between(pMinor, yPrice), d3.format("d"), false);
  ylabel("Price (USD)", 55, p);
  legend([160, 55, 447, 316], [
    {kind: "line", y: 75.8, color: "#1f6fb4", width: 5.5, label: "Close Price"},
    {kind: "line", y: 112.5, color: "#e74c3c", width: 3.3, dash: "12.3,5.3", label: "Upper (+2.0σ)"},
    {kind: "line", y: 149.3, color: "#f39c12", width: 3.3, dash: "12.3,5.3", label: "Middle (SMA 20)"},
    {kind: "line", y: 184.8, color: "#27ae60", width: 3.3, dash: "12.3,5.3", label: "Lower (-2.0σ)"},
    {kind: "patch", y: 221.6, color: "#95a5a6", opacity: 0.11, label: "Band Range"},
    {kind: "dot", y: 258.3, color: "#e74c3c", label: "Above Upper"},
    {kind: "dot", y: 293.9, color: "#27ae60", label: "Below Lower"}
  ]);
}

// ---- MACD panel ----
{
  const p = P.macd;
  const bw = x(new Date(+first + DAY)) - x(first);
  svg.selectAll(null).data(hist).join("rect")
      .attr("x", d => x(d[0]) - bw / 2).attr("width", bw)
      .attr("y", d => yMacd(Math.max(0, d[1])))
      .attr("height", d => Math.abs(yMacd(d[1]) - yMacd(0)))
      .attr("fill", d => d[1] >= 0 ? "#26a69a" : "#ef5350").attr("fill-opacity", 0.7);
  grid(p, yMacd, null, null);
  svg.append("line").attr("x1", L).attr("x2", R).attr("y1", yMacd(0)).attr("y2", yMacd(0))
      .attr("stroke", "#888888").attr("stroke-width", 2.8).attr("stroke-dasharray", "9,4");
  svg.append("path").datum(macd).attr("d", line(yMacd)).attr("fill", "none")
      .attr("stroke", "#1f6fb4").attr("stroke-width", 5).attr("stroke-linejoin", "round");
  svg.append("path").datum(signal).attr("d", line(yMacd)).attr("fill", "none")
      .attr("stroke", "#ff7f0e").attr("stroke-width", 5).attr("stroke-linejoin", "round");
  axes(p, yMacd, [0], null, d3.format("d"), false);
  ylabel("MACD", 77, p);
  legend([160, 1866, 411, 1983], [
    {kind: "line", y: 1886.8, color: "#1f6fb4", width: 5, label: "MACD(12,26)"},
    {kind: "line", y: 1923.3, color: "#ff7f0e", width: 5, label: "Signal(9)"},
    {kind: "patch", y: 1959.1, color: "#26a69a", opacity: 0.7, label: "Histogram"}
  ]);
}

// ---- %B panel ----
{
  const p = P.pctb;
  defs.append("clipPath").attr("id", "pbAbove").append("rect")
      .attr("x", L).attr("y", p.top).attr("width", R - L).attr("height", yPctb(1) - p.top);
  defs.append("clipPath").attr("id", "pbBelow").append("rect")
      .attr("x", L).attr("y", yPctb(0)).attr("width", R - L).attr("height", p.bottom - yPctb(0));
  svg.append("path").datum(pctb).attr("clip-path", "url(#pbAbove)")
      .attr("d", d3.area().x(d => x(d[0])).y0(yPctb(1)).y1(d => yPctb(d[1])))
      .attr("fill", "#e74c3c").attr("fill-opacity", 0.2);
  svg.append("path").datum(pctb).attr("clip-path", "url(#pbBelow)")
      .attr("d", d3.area().x(d => x(d[0])).y0(yPctb(0)).y1(d => yPctb(d[1])))
      .attr("fill", "#27ae60").attr("fill-opacity", 0.2);
  const bMinor = d3.range(-1, 14).filter(i => i % 5 !== 0).map(i => i / 10);
  grid(p, yPctb, pctbTicks, between(bMinor, yPctb));
  svg.append("line").attr("x1", L).attr("x2", R).attr("y1", yPctb(1)).attr("y2", yPctb(1))
      .attr("stroke", "#e74c3c").attr("stroke-opacity", 0.7).attr("stroke-width", 2.8).attr("stroke-dasharray", "10.4,4.5");
  svg.append("line").attr("x1", L).attr("x2", R).attr("y1", yPctb(0.5)).attr("y2", yPctb(0.5))
      .attr("stroke", "#f39c12").attr("stroke-opacity", 0.6).attr("stroke-width", 2.2).attr("stroke-dasharray", "2.2,3.6");
  svg.append("line").attr("x1", L).attr("x2", R).attr("y1", yPctb(0)).attr("y2", yPctb(0))
      .attr("stroke", "#27ae60").attr("stroke-opacity", 0.7).attr("stroke-width", 2.8).attr("stroke-dasharray", "10.4,4.5");
  svg.append("path").datum(pctb).attr("d", line(yPctb)).attr("fill", "none")
      .attr("stroke", "#8e44ad").attr("stroke-width", 3.3).attr("stroke-linejoin", "round");
  axes(p, yPctb, pctbTicks, between(bMinor, yPctb), d3.format(".1f"), false);
  ylabel("%B", 47, p);
  legend([160, 2975, 440, 3127], [
    {kind: "line", y: 2995.5, color: "#8e44ad", width: 3.3, label: "%B"},
    {kind: "line", y: 3031.7, color: "#e74c3c", width: 2.8, opacity: 0.7, dash: "10.4,4.5", label: "%B = 1 (Upper)"},
    {kind: "line", y: 3067.8, color: "#f39c12", width: 2.2, opacity: 0.6, dash: "2.2,3.6", label: "%B = 0.5 (Mid)"},
    {kind: "line", y: 3103.9, color: "#27ae60", width: 2.8, opacity: 0.7, dash: "10.4,4.5", label: "%B = 0 (Lower)"}
  ]);
}

// ---- RSI panel ----
{
  const p = P.rsi;
  defs.append("clipPath").attr("id", "rsiAbove").append("rect")
      .attr("x", L).attr("y", p.top).attr("width", R - L).attr("height", yRsi(70) - p.top);
  defs.append("clipPath").attr("id", "rsiBelow").append("rect")
      .attr("x", L).attr("y", yRsi(30)).attr("width", R - L).attr("height", p.bottom - yRsi(30));
  svg.append("path").datum(rsi).attr("clip-path", "url(#rsiAbove)")
      .attr("d", d3.area().x(d => x(d[0])).y0(yRsi(70)).y1(d => yRsi(d[1])))
      .attr("fill", "#f44336").attr("fill-opacity", 0.25);
  svg.append("path").datum(rsi).attr("clip-path", "url(#rsiBelow)")
      .attr("d", d3.area().x(d => x(d[0])).y0(yRsi(30)).y1(d => yRsi(d[1])))
      .attr("fill", "#4caf50").attr("fill-opacity", 0.25);
  const rMinor = d3.range(0, 101, 2).filter(v => v % 10 !== 0);
  grid(p, yRsi, rsiTicks, rMinor);
  svg.append("line").attr("x1", L).attr("x2", R).attr("y1", yRsi(50)).attr("y2", yRsi(50))
      .attr("stroke", "#999999").attr("stroke-width", 2.8).attr("stroke-dasharray", "2.8,4.6");
  svg.append("line").attr("x1", L).attr("x2", R).attr("y1", yRsi(70)).attr("y2", yRsi(70))
      .attr("stroke", "#ee2a2a").attr("stroke-opacity", 0.9).attr("stroke-width", 3.3).attr("stroke-dasharray", "12.3,5.3");
  svg.append("line").attr("x1", L).attr("x2", R).attr("y1", yRsi(30)).attr("y2", yRsi(30))
      .attr("stroke", "#1f8f1f").attr("stroke-opacity", 0.9).attr("stroke-width", 3.3).attr("stroke-dasharray", "12.3,5.3");
  svg.append("path").datum(rsi).attr("d", line(yRsi)).attr("fill", "none")
      .attr("stroke", "#ff7f0e").attr("stroke-width", 4).attr("stroke-linejoin", "round");
  axes(p, yRsi, rsiTicks, rMinor, d3.format("d"), true);
  ylabel("RSI(14)", 38, p);
  legend([160, 3616, 451, 3731], [
    {kind: "line", y: 3636.3, color: "#ff7f0e", width: 4, label: "RSI(14)"},
    {kind: "line", y: 3672.4, color: "#ee2a2a", width: 3.3, opacity: 0.9, dash: "12.3,5.3", label: "Overbought (70)"},
    {kind: "line", y: 3708.6, color: "#1f8f1f", width: 3.3, opacity: 0.9, dash: "12.3,5.3", label: "Oversold (30)"}
  ]);
}

// ---- title ----
svg.append("text")
    .attr("x", W / 2).attr("y", 62)
    .attr("text-anchor", "middle")
    .attr("font-size", 48.7).attr("font-weight", "bold")
    .attr("xml:space", "preserve")
    .style("white-space", "pre")
    .text(`${ticker}  —  Bollinger Bands(20, 2.0)  +  MACD(12,26,9)  +  RSI(14)  —  ${asOf}`);
</script>
</body>
</html>
